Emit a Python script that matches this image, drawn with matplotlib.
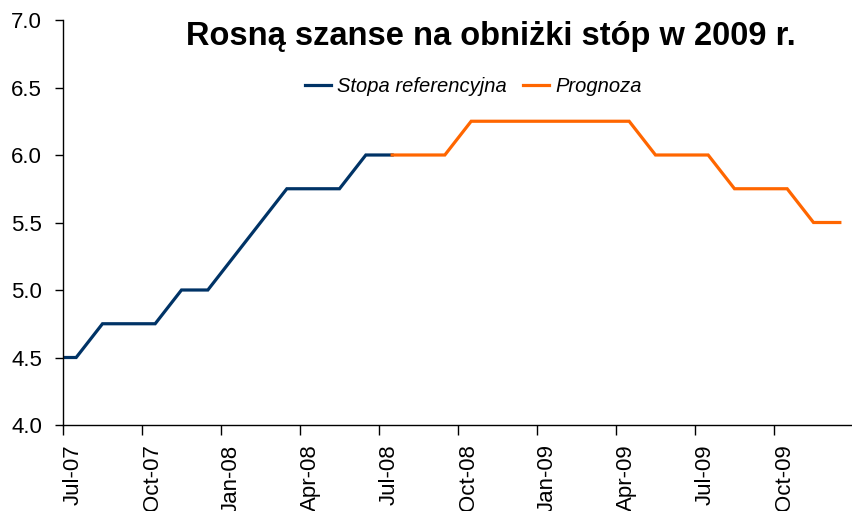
import matplotlib
matplotlib.use("Agg")
import matplotlib.pyplot as plt

plt.rcParams['font.family'] = ['Liberation Sans', 'DejaVu Sans']

# Month labels for ticks (every 3 months)
tick_labels = ["Jul-07", "Oct-07", "Jan-08", "Apr-08", "Jul-08",
               "Oct-08", "Jan-09", "Apr-09", "Jul-09", "Oct-09"]

# Monthly series (Jun-07 .. Jul-08)
ref_months = ["Jun-07", "Jul-07", "Aug-07", "Sep-07", "Oct-07", "Nov-07", "Dec-07",
              "Jan-08", "Feb-08", "Mar-08", "Apr-08", "May-08", "Jun-08", "Jul-08"]
ref_values = [4.5, 4.5, 4.75, 4.75, 4.75, 5.0, 5.0, 5.25, 5.5, 5.75, 5.75, 5.75, 6.0, 6.0]

# Forecast (Jul-08 .. Dec-09)
fc_months = ["Jul-08", "Aug-08", "Sep-08", "Oct-08", "Nov-08", "Dec-08",
             "Jan-09", "Feb-09", "Mar-09", "Apr-09", "May-09", "Jun-09",
             "Jul-09", "Aug-09", "Sep-09", "Oct-09", "Nov-09", "Dec-09"]
fc_values = [6.0, 6.0, 6.0, 6.25, 6.25, 6.25, 6.25, 6.25, 6.25, 6.25,
             6.0, 6.0, 6.0, 5.75, 5.75, 5.75, 5.5, 5.5]

mon = {"Jan": 1, "Feb": 2, "Mar": 3, "Apr": 4, "May": 5, "Jun": 6,
       "Jul": 7, "Aug": 8, "Sep": 9, "Oct": 10, "Nov": 11, "Dec": 12}

def pos(label):
    m, y = label.split("-")
    idx = (2000 + int(y)) * 12 + mon[m] - (2007 * 12 + 7)
    return idx + 0.5  # category centred between tick marks

def tick_pos(label):
    return pos(label) - 0.5

fig = plt.figure(figsize=(8.53, 5.11), dpi=100)
ax = fig.add_axes([63 / 853, 1 - 425 / 511, (853 - 63) / 853, (425 - 20) / 511])

ax.plot([pos(m) for m in ref_months], ref_values, color="#003366", lw=2.3,
        label="Stopa referencyjna", solid_joinstyle="miter")
ax.plot([pos(m) for m in fc_months], fc_values, color="#FF6600", lw=2.3,
        label="Prognoza", solid_joinstyle="miter")

ax.set_xlim(0, 30)
ax.set_ylim(4.0, 7.0)
yt = [4.0, 4.5, 5.0, 5.5, 6.0, 6.5, 7.0]
ax.set_yticks(yt)
ax.set_yticklabels([f"{v:.1f}" for v in yt])

# major ticks at boundaries (no labels), labels on minor ticks at category centres
ax.set_xticks([tick_pos(t) for t in tick_labels])
ax.set_xticklabels([])
ax.set_xticks([pos(t) - 0.1 for t in tick_labels], minor=True)
ax.set_xticklabels(tick_labels, minor=True, rotation=90, va="top", ha="center")

for s in ["top", "right"]:
    ax.spines[s].set_visible(False)
for s in ["left", "bottom"]:
    ax.spines[s].set_color("black")
    ax.spines[s].set_linewidth(1.0)

ax.tick_params(axis="y", direction="out", length=6, width=1, labelsize=16, pad=9)
ax.tick_params(axis="x", which="major", direction="out", length=7, width=1)
ax.tick_params(axis="x", which="minor", length=0, labelsize=16, pad=14)

fig.text(0.575, 1 - 37 / 511, "Rosną szanse na obniżki stóp w 2009 r.",
         ha="center", va="center", fontsize=23.5, fontweight="bold")

leg = ax.legend(loc="center", bbox_to_anchor=((473.5 - 63) / 790, 1 - (87 - 20) / 405),
                ncol=2, frameon=False, prop={"style": "italic", "size": 14.5},
                handlelength=1.3, handletextpad=0.3, columnspacing=0.8)

fig.savefig("out.png", dpi=100)
